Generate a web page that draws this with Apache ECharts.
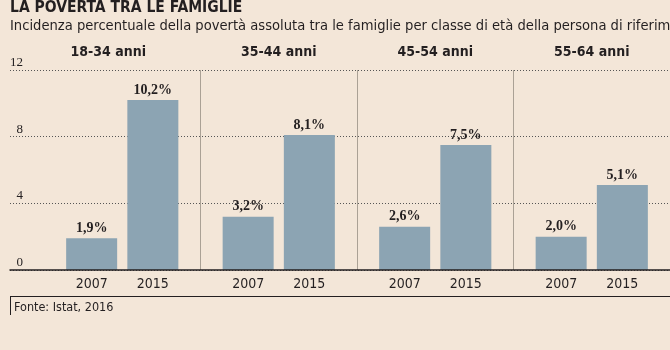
<!DOCTYPE html>
<html>
<head>
<meta charset="utf-8">
<script src="https://cdn.jsdelivr.net/npm/echarts@6/dist/echarts.min.js"></script>
<style>
  html, body { margin: 0; padding: 0; background: #f3e6d8; }
  #chart { width: 670px; height: 350px; }
</style>
</head>
<body>
<div id="chart"></div>
<script>
const groups = ['18-34 anni', '35-44 anni', '45-54 anni', '55-64 anni']
const years = ['2007', '2015']
const values2007 = [1.9, 3.2, 2.6, 2.0]
const values2015 = [10.2, 8.1, 7.5, 5.1]
const yTicks = [0, 4, 8, 12]

const sans = "'Liberation Sans Narrow', 'DejaVu Sans Condensed', 'Roboto', sans-serif"
const serif = "'Liberation Serif', 'DejaVu Serif', serif"
const ink = '#231f20'
const barColor = '#8ca4b3'

function pct(p) {
  return p.value.toFixed(1).replace('.', ',') + '%'
}

const chart = echarts.init(document.getElementById('chart'))

var option = {
  backgroundColor: '#f3e6d8',
  animation: false,
  title: [
    {
      text: 'LA POVERTÀ TRA LE FAMIGLIE',
      left: 10, top: 0, padding: 0,
      textStyle: { fontFamily: sans, fontSize: 15.5, fontWeight: 'bold', color: ink }
    },
    {
      text: 'Incidenza percentuale della povertà assoluta tra le famiglie per classe di età della persona di riferimento',
      left: 10, top: 19, padding: 0,
      textStyle: { fontFamily: sans, fontSize: 14.6, fontWeight: 'normal', color: ink }
    },
    {
      text: 'Fonte: Istat, 2016',
      left: 14, top: 301, padding: 0,
      textStyle: { fontFamily: sans, fontSize: 12.5, fontWeight: 'normal', color: ink }
    }
  ],
  grid: [
    // gridlines and y labels span the full width
    { left: 10, right: 0, top: 70, height: 200 },
    // bars
    { left: 44, width: 632, top: 70, height: 200 }
  ],
  xAxis: [
    {
      gridIndex: 0, type: 'category', data: [''],
      axisLine: { show: true, lineStyle: { color: ink, width: 1.5 } },
      axisTick: { show: false }, axisLabel: { show: false }, z: 5
    },
    {
      gridIndex: 1, type: 'category', data: groups,
      axisLine: { show: false }, axisTick: { show: false },
      splitLine: { show: true, showMinLine: false, lineStyle: { color: '#aaa195', width: 1 } },
      axisLabel: {
        margin: 7,
        formatter: () => '{a|' + years[0] + '}{b|' + years[1] + '}',
        rich: {
          a: { width: 61, align: 'center', fontFamily: sans, fontSize: 14, color: ink },
          b: { width: 61, align: 'center', fontFamily: sans, fontSize: 14, color: ink }
        }
      }
    },
    {
      gridIndex: 1, type: 'category', data: groups, position: 'top',
      axisLine: { show: false }, axisTick: { show: false },
      axisLabel: {
        margin: 11,
        // the first heading sits a little left of its group
        formatter: (v, i) => i === 0 ? '{f|' + v + '}' : '{n|' + v + '}',
        rich: {
          f: { fontFamily: sans, fontSize: 14, fontWeight: 'bold', color: ink, padding: [0, 28, 0, 0] },
          n: { fontFamily: sans, fontSize: 14, fontWeight: 'bold', color: ink }
        }
      }
    }
  ],
  yAxis: [
    {
      gridIndex: 0, type: 'value', min: 0, max: 12, interval: 4,
      axisLine: { show: false }, axisTick: { show: false },
      splitLine: { show: true, lineStyle: { color: '#555', type: [1, 2], width: 1 } },
      axisLabel: {
        inside: true, align: 'right', verticalAlign: 'bottom', margin: 13,
        fontFamily: serif, fontSize: 13, color: ink, lineHeight: 15,
        formatter: v => yTicks.includes(v) ? String(v) : ''
      }
    },
    {
      gridIndex: 1, type: 'value', min: 0, max: 12, interval: 4,
      show: false, splitLine: { show: false }
    }
  ],
  series: [
    {
      name: years[0], type: 'bar', xAxisIndex: 1, yAxisIndex: 1,
      data: values2007, barWidth: 51, barGap: '20%',
      itemStyle: { color: barColor },
      label: { show: true, position: 'top', distance: 3, formatter: pct,
        fontFamily: serif, fontSize: 14, fontWeight: 'bold', color: ink }
    },
    {
      name: years[1], type: 'bar', xAxisIndex: 1, yAxisIndex: 1,
      data: values2015, barWidth: 51, barGap: '20%',
      itemStyle: { color: barColor },
      label: { show: true, position: 'top', distance: 3, formatter: pct,
        fontFamily: serif, fontSize: 14, fontWeight: 'bold', color: ink }
    }
  ],
  graphic: [
    { type: 'line', shape: { x1: 10, y1: 296.5, x2: 670, y2: 296.5 }, style: { stroke: ink, lineWidth: 1 } },
    { type: 'line', shape: { x1: 10.5, y1: 296, x2: 10.5, y2: 315 }, style: { stroke: ink, lineWidth: 1 } }
  ]
};

option && chart.setOption(option);
</script>
</body>
</html>
